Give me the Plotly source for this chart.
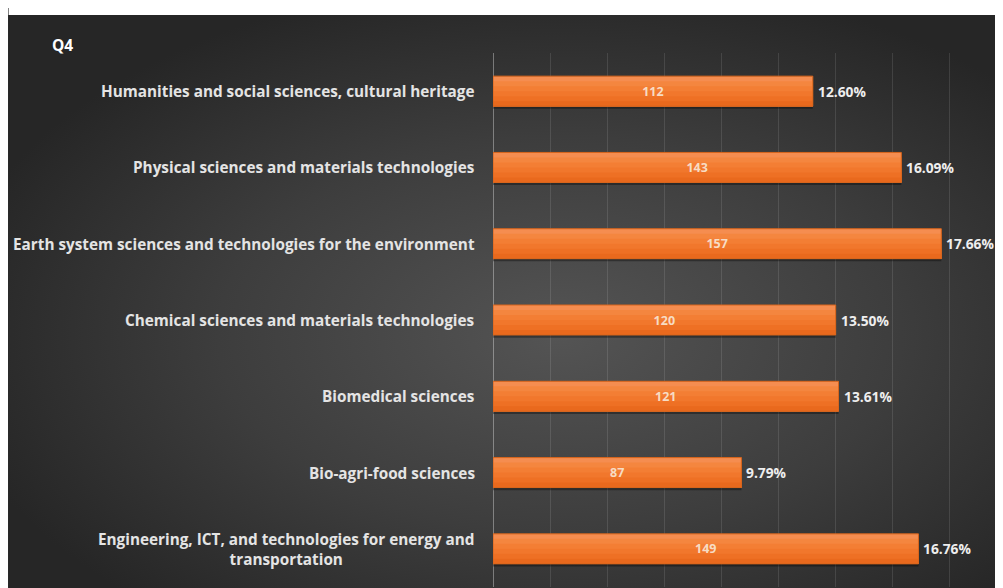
import base64
import plotly.graph_objects as go

categories = [
    "Humanities and social sciences, cultural heritage",
    "Physical sciences and materials technologies",
    "Earth system sciences and technologies for the environment",
    "Chemical sciences and materials technologies",
    "Biomedical sciences",
    "Bio-agri-food sciences",
    "Engineering, ICT, and technologies for energy and<br>transportation",
]
counts = [112, 143, 157, 120, 121, 87, 149]
percents = [12.60, 16.09, 17.66, 13.50, 13.61, 9.79, 16.76]
pct_labels = [f"{p:.2f}%" for p in percents]
title_text = "Q4"

# page has an 8px body margin: figure coords = screen coords - 8
W, H = 1003, 588
L, R, T, B = 484.7, 8, 45, 9
pw = W - L - R
ph = H - T - B
FONT = "Open Sans"
BW = 0.393  # bar thickness in category units

svg = (
    '<svg xmlns="http://www.w3.org/2000/svg" width="1003" height="581" viewBox="0 0 1003 581" preserveAspectRatio="none">'
    '<defs><radialGradient id="g" cx="0.55" cy="0.55" r="0.62">'
    '<stop offset="0" stop-color="#545454"/>'
    '<stop offset="0.55" stop-color="#3d3d3d"/>'
    '<stop offset="1" stop-color="#262626"/>'
    '</radialGradient></defs>'
    '<rect width="1003" height="581" fill="url(#g)"/></svg>'
)
src = "data:image/svg+xml;base64," + base64.b64encode(svg.encode()).decode()

fig = go.Figure()
# drop shadow
fig.add_trace(go.Bar(
    x=counts, y=categories, orientation="h", width=BW, offset=-BW / 2 + 0.035,
    marker=dict(color="rgba(0,0,0,0.35)", line=dict(width=0)),
    hoverinfo="skip",
))
# vertical gradient of the bar fill: overlapping layers, each reaching the bar bottom
band_colors = ["#f58d50", "#f4863f", "#f37e34", "#f1772c", "#ee7024", "#e9691d"]
nb = len(band_colors)
for i, col in enumerate(band_colors):
    fig.add_trace(go.Bar(
        x=counts, y=categories, orientation="h",
        width=BW - i * BW / nb, offset=-BW / 2 + i * BW / nb,
        marker=dict(color=col, line=dict(width=0)),
        hoverinfo="skip",
    ))
# outline + value labels
fig.add_trace(go.Bar(
    x=counts, y=categories, orientation="h", width=BW, offset=-BW / 2,
    marker=dict(color="rgba(0,0,0,0)", line=dict(color="#d8651c", width=1)),
    text=[str(c) for c in counts], textposition="inside",
    insidetextanchor="middle",
    textfont=dict(family=FONT, size=12.5, color="#f7dcc4", weight="bold"),
    hoverinfo="skip",
))

annotations = []
for c in categories:
    annotations.append(dict(
        x=0, xref="paper", y=c, yref="y", xanchor="right", yanchor="middle",
        xshift=-16, text=c, showarrow=False, align="center",
        font=dict(family=FONT, size=15.3, color="#e4e4e4", weight="bold"),
    ))
for c, v, t in zip(categories, counts, pct_labels):
    annotations.append(dict(
        x=v, xref="x", y=c, yref="y", xanchor="left", yanchor="middle",
        xshift=3, text=t, showarrow=False,
        font=dict(family=FONT, size=13.8, color="#eeeeee", weight="bold"),
    ))
annotations.append(dict(
    x=(41 - L) / pw, xref="paper", y=1 + (T - 37) / ph, yref="paper",
    xanchor="left", yanchor="middle", text=title_text, showarrow=False,
    font=dict(family=FONT, size=15.5, color="#ffffff", weight="bold"),
))

fig.update_layout(
    width=W, height=H,
    margin=dict(l=L, r=R, t=T, b=B, pad=0),
    paper_bgcolor="#2a2a2a",
    plot_bgcolor="rgba(0,0,0,0)",
    showlegend=False,
    barmode="overlay",
    annotations=annotations,
    shapes=[dict(
        type="rect", xref="paper", yref="paper", layer="below",
        x0=(0 - L) / pw, x1=(W - L) / pw,
        y0=1 + (T - 7) / ph, y1=1 + T / ph,
        fillcolor="#ffffff", line=dict(width=0),
    )],
    images=[dict(
        source=src, xref="paper", yref="paper",
        x=(0 - L) / pw, y=1 + (T - 7) / ph,
        sizex=W / pw, sizey=(H - 7) / ph,
        xanchor="left", yanchor="top", sizing="stretch", layer="below",
    )],
    xaxis=dict(
        range=[0, pw / (320 / 112)], dtick=20, showgrid=True,
        gridcolor="rgba(255,255,255,0.11)", gridwidth=1,
        zeroline=True, zerolinecolor="rgba(255,255,255,0.35)", zerolinewidth=1,
        showticklabels=False, ticks="", showline=False, fixedrange=True,
    ),
    yaxis=dict(
        autorange="reversed", showticklabels=False, showgrid=False,
        zeroline=False, ticks="", showline=False,
    ),
)

fig.write_html("out.html")
